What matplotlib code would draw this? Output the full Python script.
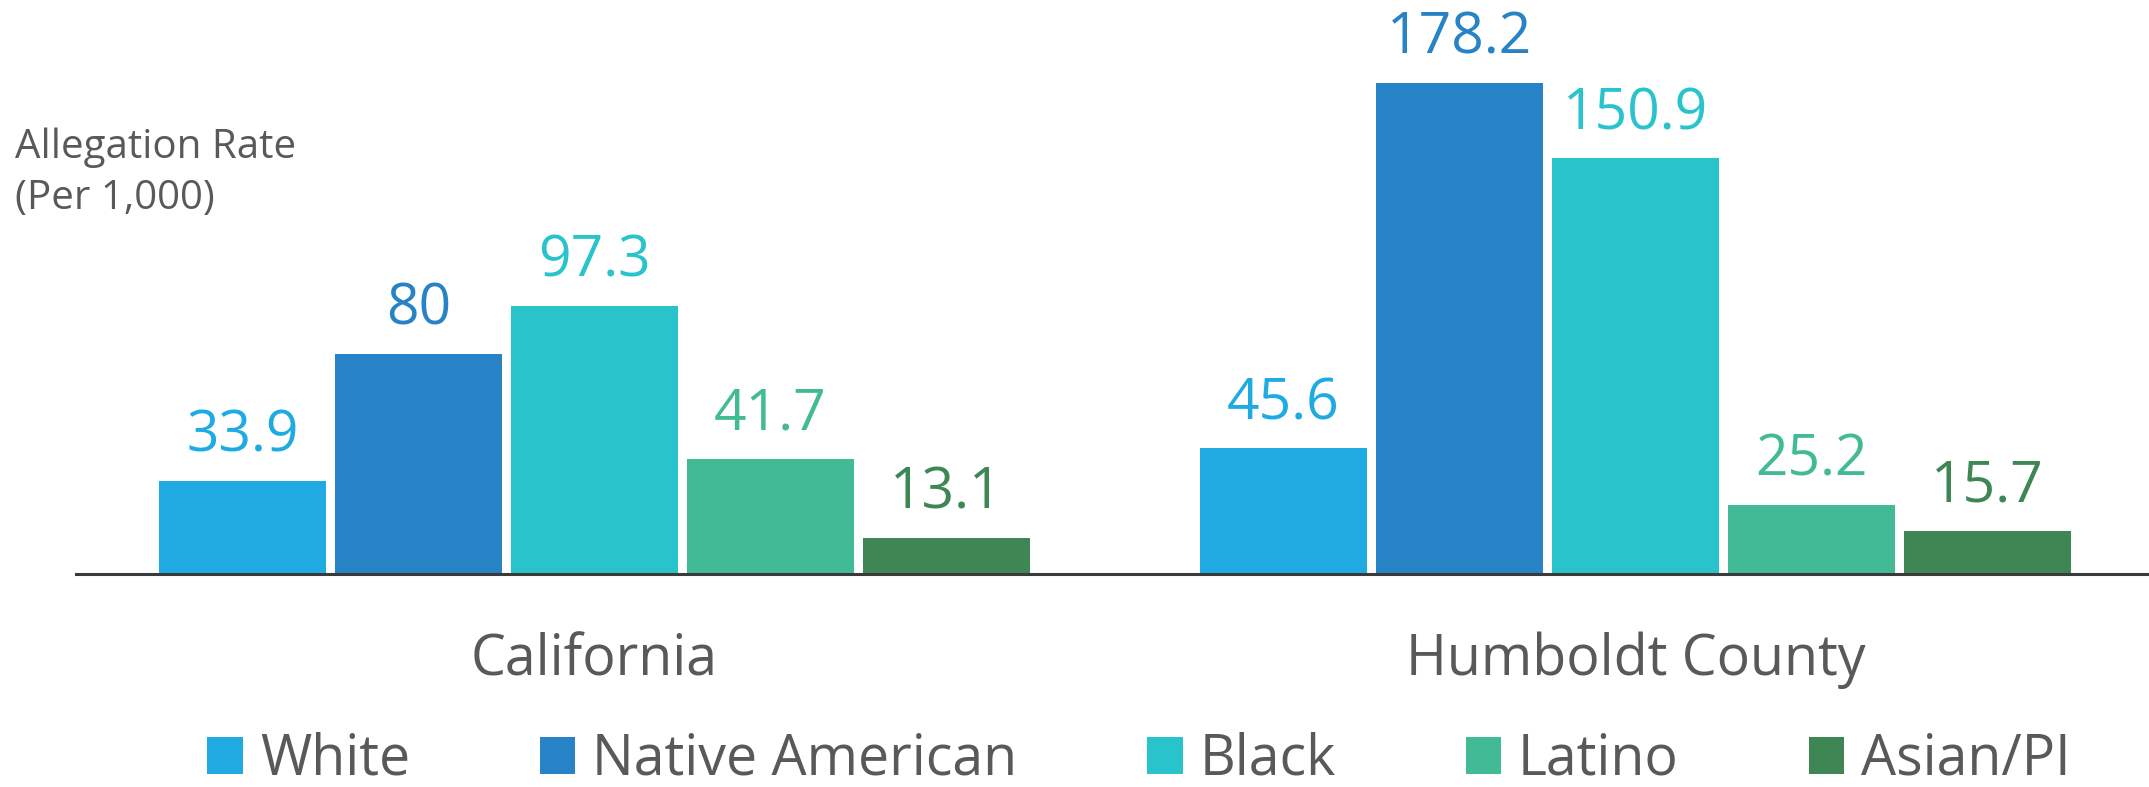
import numpy as np
import matplotlib.pyplot as plt
from matplotlib.patches import Patch
import matplotlib.transforms as mtransforms

plt.rcParams['font.family'] = ['Open Sans', 'DejaVu Sans']

# data
groups = ['California', 'Humboldt County']
races = ['White', 'Native American', 'Black', 'Latino', 'Asian/PI']
california = [33.9, 80, 97.3, 41.7, 13.1]
humboldt = [45.6, 178.2, 150.9, 25.2, 15.7]
value_labels_ca = ['33.9', '80', '97.3', '41.7', '13.1']
value_labels_hc = ['45.6', '178.2', '150.9', '25.2', '15.7']
colors = ['#1FABE2', '#2783C5', '#28C3CB', '#43BA96', '#3E8754']
text_gray = '#595959'

fig = plt.figure(figsize=(21.49, 7.87), dpi=100)
ax = fig.add_axes([0.0354, 0.2706, 0.9646, 0.7294])

centers = [0, 5.915]
width = 0.949
for gi, (vals, labs) in enumerate([(california, value_labels_ca), (humboldt, value_labels_hc)]):
    for i, v in enumerate(vals):
        x = centers[gi] + (i - 2)
        ax.bar(x, v, width=width, color=colors[i], edgecolor='none')
        ax.annotate(labs[i], (x, v), xytext=(0, 21), textcoords='offset points',
                    ha='center', va='baseline', fontsize=41, color=colors[i])

ax.set_xlim(-2.946, 8.832)
ax.set_ylim(0, 208.3)

# group names under the axis
trans = mtransforms.blended_transform_factory(ax.transData, ax.transAxes)
for c, g in zip(centers, groups):
    ax.text(c, -0.176, g, transform=trans, ha='center', va='baseline',
            fontsize=40, color=text_gray)

for s in ['top', 'right', 'left']:
    ax.spines[s].set_visible(False)
ax.spines['bottom'].set_color('#3a3a3a')
ax.spines['bottom'].set_linewidth(2.2)
ax.set_xticks([])
ax.set_yticks([])

fig.text(0.007, 1 - 128 / 787, 'Allegation Rate\n(Per 1,000)', ha='left', va='top',
         fontsize=29, color=text_gray, linespacing=1.32)

handles = [Patch(facecolor=c, edgecolor='none') for c in colors]
fig.legend(handles, races, loc='center', bbox_to_anchor=(0.530, 0.034), ncol=5,
           frameon=False, fontsize=40, handlelength=0.64, handleheight=0.64,
           handletextpad=0.3, columnspacing=2.34, labelcolor=text_gray)

fig.savefig('out.png', dpi=100)
